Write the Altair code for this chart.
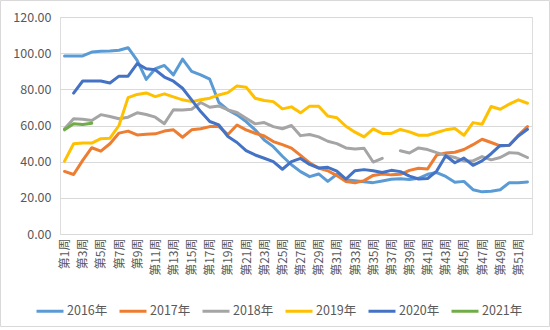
import altair as alt
import pandas as pd

weeks = [f"第{i}周" for i in range(1, 53)]
years = ["2016年", "2017年", "2018年", "2019年", "2020年", "2021年"]
colors = ["#5B9BD5", "#ED7D31", "#A5A5A5", "#FFC000", "#4472C4", "#70AD47"]

v2016 = [98.5, 98.5, 98.5, 100.6, 101.0, 101.2, 101.6, 103.0, 96.0, 85.5,
         91.4, 93.2, 88.0, 96.7, 89.9, 88.0, 85.6, 72.7, 68.6, 65.9,
         62.2, 57.6, 52.0, 48.3, 43.0, 38.3, 34.5, 31.7, 33.2, 29.1,
         33.0, 30.0, 29.5, 28.9, 28.4, 29.3, 30.3, 30.6, 30.2, 30.8,
         33.0, 34.0, 31.8, 28.6, 29.1, 24.5, 23.3, 23.6, 24.5, 28.4,
         28.4, 28.8]
v2017 = [34.6, 32.9, 40.7, 47.7, 45.8, 49.9, 55.8, 56.9, 54.8, 55.1,
         55.4, 56.9, 57.6, 53.5, 57.6, 58.2, 59.4, 59.4, 55.0, 60.3,
         57.6, 55.7, 54.2, 51.1, 49.4, 47.5, 43.5, 39.3, 36.5, 35.0,
         32.3, 29.0, 28.3, 29.5, 32.4, 33.2, 32.7, 33.0, 35.2, 36.4,
         36.0, 43.6, 44.8, 45.2, 46.7, 49.4, 52.4, 50.6, 48.7, 49.1,
         54.6, 59.4]
v2018 = [58.2, 63.7, 63.5, 62.8, 66.0, 65.0, 63.7, 64.6, 67.0, 66.1,
         64.6, 61.0, 68.7, 68.6, 69.0, 72.7, 70.1, 70.8, 68.6, 67.2,
         64.0, 60.9, 61.6, 59.4, 58.2, 60.0, 54.4, 55.0, 53.7, 51.3,
         50.0, 47.6, 47.0, 47.4, 39.8, 41.8, None, 46.0, 44.8, 47.6,
         46.7, 45.0, 43.5, 42.3, 40.4, 40.4, 42.8, 41.0, 42.3, 45.0,
         44.6, 42.3]
v2019 = [40.3, 49.9, 50.3, 50.3, 52.7, 53.0, 60.0, 75.4, 77.2, 78.0,
         76.0, 77.5, 75.8, 74.2, 73.2, 74.2, 75.1, 76.9, 78.2, 81.9,
         81.2, 75.1, 73.8, 73.2, 69.2, 70.3, 67.0, 70.7, 70.7, 65.2,
         64.3, 59.6, 56.3, 53.7, 58.1, 55.6, 55.6, 57.8, 56.5, 54.6,
         54.6, 56.1, 57.6, 58.3, 54.6, 61.6, 60.7, 70.5, 69.0, 71.8,
         74.2, 72.3]
v2020 = [None, 77.9, 84.6, 84.6, 84.6, 83.5, 87.3, 87.3, 94.2, 91.4,
         90.8, 86.8, 84.5, 80.6, 74.2, 67.7, 62.2, 60.3, 53.9, 50.6,
         46.1, 43.7, 41.9, 40.0, 35.8, 40.0, 41.8, 38.5, 36.5, 36.9,
         34.8, 30.4, 35.0, 35.6, 35.0, 34.0, 35.2, 34.5, 32.0, 30.4,
         30.7, 34.8, 43.3, 39.4, 42.0, 38.0, 40.4, 44.4, 49.0, 49.1,
         54.2, 57.9]
v2021 = [57.6, 61.0, 60.6, 61.3]

series = [v2016, v2017, v2018, v2019, v2020, v2021]

rows = []
for yr, vals in zip(years, series):
    seg = 0
    for i, v in enumerate(vals):
        if v is None:
            seg += 1
            continue
        rows.append({"week": weeks[i], "week_idx": i, "year": yr, "value": v,
                     "seg": f"{yr}-{seg}"})
df = pd.DataFrame(rows)

font = "Noto Sans CJK SC"
label_weeks = weeks[::2]

lines = alt.Chart(df).mark_line(strokeWidth=3, strokeJoin="round", strokeCap="round").encode(
    x=alt.X("week:O", sort=weeks, scale=alt.Scale(domain=weeks),
            axis=alt.Axis(title=None, values=label_weeks, labelAngle=-90, ticks=False,
                          domain=False, labelFont=font, labelFontSize=12,
                          labelColor="#595959", labelPadding=4, grid=False)),
    y=alt.Y("value:Q", scale=alt.Scale(domain=[0, 120]),
            axis=alt.Axis(title=None, values=[0, 20, 40, 60, 80, 100, 120], format=".2f",
                          ticks=False, domain=False, labelFont=font, labelFontSize=12.5,
                          labelColor="#595959", labelPadding=9, gridColor="#D9D9D9",
                          gridWidth=1)),
    color=alt.Color("year:N", scale=alt.Scale(domain=years, range=colors),
                    legend=alt.Legend(title=None, orient="none", legendX=-25, legendY=279,
                                      direction="horizontal", columns=6,
                                      symbolType="stroke", symbolSize=729,
                                      symbolStrokeWidth=3, labelFont=font,
                                      labelFontSize=12.5, labelColor="#595959",
                                      columnPadding=5, labelOffset=2)),
    detail="seg:N",
    order=alt.Order("week_idx:Q"),
)

frame = alt.Chart(pd.DataFrame({"k": [0]})).mark_rect(
    fill="transparent", stroke="#D9D9D9", strokeWidth=1
).encode(
    x=alt.value(-59.5), x2=alt.value(489.5), y=alt.value(-16.5), y2=alt.value(309.5)
)

chart = alt.layer(frame, lines).properties(
    width=472, height=217,
    autosize=alt.AutoSizeParams(type="none"),
    padding={"left": 60, "top": 17, "right": 18, "bottom": 96},
).configure_view(stroke=None).configure(background="white")

chart.save("out.html", embed_options={"renderer": "svg", "actions": False})
